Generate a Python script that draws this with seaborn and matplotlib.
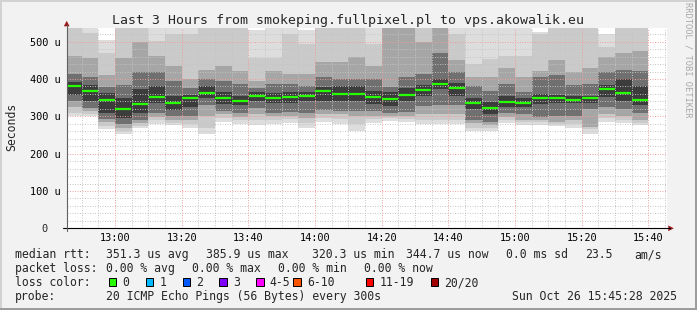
import numpy as np
import pandas as pd
import matplotlib
matplotlib.use("Agg")
import matplotlib.pyplot as plt
from matplotlib.lines import Line2D
from matplotlib.patches import Rectangle, Polygon
import seaborn as sns

# ---------------- data ----------------
# 5-minute RRD slots (each value covers the 5 minutes ending at slot_end)
slot_end = pd.date_range("2025-10-26 12:50", "2025-10-26 15:40", freq="5min")

median_us = [382, 369, 344, 320.3, 333, 353, 336, 349, 363, 350, 342, 355, 350, 353, 355,
             369, 360, 360, 351, 346, 358, 371, 385.9, 377, 336, 323, 339, 337, 350, 350,
             345, 349, 374, 363, 344.7]

# smoke bands (outer -> inner ping pairs), microseconds
band1_lo = [300, 300, 265, 252, 268, 280, 278, 270, 252, 285, 280, 278, 280, 283, 270, 285, 280, 262,
            282, 288, 285, 280, 280, 280, 261, 260, 282, 278, 278, 275, 268, 252, 285, 282, 278]
band1_hi = [545, 545, 505, 545, 545, 545, 545, 545, 545, 545, 545, 530, 545, 545, 530, 545, 545, 545,
            545, 545, 545, 545, 545, 545, 545, 545, 545, 545, 525, 545, 545, 545, 520, 545, 545]
band2_lo = [310, 305, 275, 260, 275, 290, 283, 280, 270, 295, 290, 290, 290, 292, 283, 295, 292, 280,
            292, 295, 292, 290, 290, 290, 270, 268, 290, 285, 285, 280, 280, 265, 295, 290, 283]
band2_hi = [545, 522, 470, 545, 545, 502, 520, 520, 545, 545, 545, 455, 455, 520, 494, 545, 545, 545,
            494, 545, 545, 545, 545, 520, 440, 453, 462, 462, 520, 545, 545, 545, 485, 545, 545]
band3_lo = [325, 315, 285, 270, 283, 298, 290, 290, 300, 305, 298, 305, 300, 300, 295, 305, 305, 300,
            300, 300, 300, 305, 305, 305, 282, 278, 298, 290, 290, 285, 290, 272, 305, 300, 290]
band3_hi = [462, 455, 410, 455, 498, 462, 435, 400, 425, 435, 422, 395, 422, 413, 413, 445, 445, 458,
            435, 545, 545, 498, 545, 450, 405, 405, 430, 405, 422, 450, 420, 430, 458, 470, 475]
band4_lo = [342, 322, 293, 280, 290, 308, 300, 302, 330, 315, 308, 322, 310, 312, 310, 318, 315, 315,
            313, 310, 312, 328, 330, 330, 290, 285, 308, 305, 298, 300, 300, 320, 325, 320, 310]
band4_hi = [413, 405, 378, 385, 418, 418, 395, 375, 400, 395, 387, 375, 387, 387, 382, 405, 400, 400,
            400, 378, 405, 413, 470, 418, 382, 368, 387, 364, 405, 410, 385, 387, 418, 425, 422]
band5_lo = [358, 340, 310, 295, 310, 335, 318, 325, 350, 333, 330, 340, 335, 335, 340, 340, 342, 342,
            333, 328, 340, 355, 372, 355, 320, 305, 325, 325, 333, 335, 335, 335, 352, 340, 330]
band5_hi = [392, 385, 362, 350, 372, 382, 355, 358, 380, 365, 355, 365, 362, 365, 365, 378, 380, 380,
            368, 365, 375, 385, 400, 390, 350, 338, 355, 350, 360, 358, 355, 355, 385, 400, 380]

xtick_labels = ["13:00", "13:20", "13:40", "14:00", "14:20", "14:40", "15:00", "15:20", "15:40"]
ytick_values = [100, 200, 300, 400, 500]
ytick_labels = ["100 u", "200 u", "300 u", "400 u", "500 u"]

title = "Last 3 Hours from smokeping.fullpixel.pl to vps.akowalik.eu"
loss_labels = ["0", "1", "2", "3", "4-5", "6-10", "11-19", "20/20"]
loss_colors = ["#26ff00", "#00b8ff", "#0059ff", "#7e00ff", "#ff00ff", "#ff5500", "#ff0000", "#a10000"]

# ---------------- styling ----------------
sns.set_style("white")
plt.rcParams["font.family"] = ["DejaVu Sans Mono", "DejaVu Sans"]

W, H = 697, 310
BG = "#f2f2f2"


def fx(px):
    return px / W


def fy(py):
    return 1 - py / H


fig = plt.figure(figsize=(W / 100, H / 100), dpi=100, facecolor=BG)
ax_left, ax_right, ax_top, ax_bot = 66.7, 666.7, 27.7, 228.3
ax = fig.add_axes([fx(ax_left), fy(ax_bot), (ax_right - ax_left) / W, (ax_bot - ax_top) / H])
ax.set_facecolor("white")

mins = np.array([t.hour * 60 + t.minute for t in slot_end], dtype=float)
starts = mins - 5
mids = mins - 2.5

bands = [(band1_lo, band1_hi), (band2_lo, band2_hi), (band3_lo, band3_hi),
         (band4_lo, band4_hi), (band5_lo, band5_hi)]
band_colors = ["#dddddd", "#cacaca", "#a6a6a6", "#707070", "#3c3c3c"]
for k, ((lo, hi), col) in enumerate(zip(bands, band_colors)):
    lo = np.array(lo, float)
    hi = np.array(hi, float)
    ax.bar(starts, hi - lo, bottom=lo, width=5, align="edge", color=col,
           linewidth=0, antialiased=False, zorder=1 + 0.1 * k)

sns.scatterplot(x=mids, y=median_us, marker="_", s=144, linewidth=1.6,
                color="#26ff00", ax=ax, zorder=6, legend=False)

t0 = 12 * 60 + 45 + 28 / 60
ax.set_xlim(t0, t0 + 180)
ax.set_ylim(0, 537.5)

xt = [int(s[:2]) * 60 + int(s[3:]) for s in xtick_labels]
ax.set_xticks(xt)
ax.set_xticklabels(xtick_labels)
ax.set_xticks(np.arange(770, 946, 5), minor=True)
ax.set_yticks([0] + ytick_values)
ax.set_yticklabels([""] + ytick_labels)
ax.set_yticks(np.arange(0, 537, 20), minor=True)

ax.set_axisbelow(False)
ax.grid(which="minor", color="#c4c4c4", linestyle=(0, (1, 1.5)), linewidth=0.72, alpha=0.9)
ax.grid(which="major", color="#f29a9a", linestyle=(0, (1, 1.5)), linewidth=0.72, alpha=0.9)

ax.tick_params(axis="x", which="major", length=0, pad=3.5, labelsize=7.4, labelcolor="black")
ax.tick_params(axis="y", which="major", length=2.2, width=0.72, direction="out", color="#404040",
               pad=2.4, labelsize=7.4, labelcolor="black")
ax.tick_params(which="minor", length=0)
for s in ax.spines.values():
    s.set_visible(False)

# "0" label
fig.text(fx(44.5), fy(228.3), "0", ha="center", va="center_baseline", fontsize=7.4)

# axis lines and arrows
fig.add_artist(Line2D([fx(62.7), fx(670)], [fy(228.3), fy(228.3)], transform=fig.transFigure,
                      color="black", linewidth=0.8))
fig.add_artist(Line2D([fx(66.7), fx(66.7)], [fy(231), fy(25)], transform=fig.transFigure,
                      color="#606060", linewidth=0.8))
arrow_c = "#9b1b1b"
fig.add_artist(Polygon([(fx(66.7), fy(20.8)), (fx(63.8), fy(26.3)), (fx(69.6), fy(26.3))],
                       closed=True, transform=fig.transFigure, color=arrow_c, linewidth=0))
fig.add_artist(Polygon([(fx(673.8), fy(228.3)), (fx(668.3), fy(225.4)), (fx(668.3), fy(231.2))],
                       closed=True, transform=fig.transFigure, color=arrow_c, linewidth=0))

# title and labels
fig.text(fx(348), fy(24), title, ha="center", va="baseline", fontsize=9.55)
fig.text(fx(11.5), fy(126.5), "Seconds", rotation=90, ha="center", va="center", fontsize=8.3)
fig.text(fx(687.7), fy(60), "RRDTOOL / TOBI OETIKER", rotation=270, ha="center", va="center",
         fontsize=6.3, color="#a8a8a8")

# legend text
fs = 8.3
rows = [
    (258.0, [("median rtt:", 16), ("351.3 us avg", 106.7), ("385.9 us max", 207.3),
             ("320.3 us min", 312.7), ("344.7 us now", 406.7), ("0.0 ms sd", 506.7),
             ("23.5", 586), ("am/s", 635)]),
    (272.0, [("packet loss:", 16), ("0.00 % avg", 106.7), ("0.00 % max", 193.3),
             ("0.00 % min", 279.3), ("0.00 % now", 365)]),
    (286.0, [("loss color:", 16)]),
    (300.0, [("probe:", 16), ("20 ICMP Echo Pings (56 Bytes) every 300s", 106.7),
             ("Sun Oct 26 15:45:28 2025", 513.3)]),
]
for base, items in rows:
    for txt, x in items:
        fig.text(fx(x - 0.8), fy(base), txt, ha="left", va="baseline", fontsize=fs)

box_x = [108.7, 145.7, 182.7, 219.3, 256.3, 293.3, 365.7, 430.7]
lab_x = [123.3, 160.7, 197.3, 234.3, 270.7, 307.7, 380.0, 445.0]
for bx, lx, lab, col in zip(box_x, lab_x, loss_labels, loss_colors):
    fig.add_artist(Rectangle((fx(bx), fy(286.0)), 7.3 / W, 7.6 / H, transform=fig.transFigure,
                             facecolor=col, edgecolor="black", linewidth=0.72))
    fig.text(fx(lx - 0.8), fy(286.0), lab, ha="left", va="baseline", fontsize=fs)

# image border shading
fig.add_artist(Rectangle((0, fy(2)), 1, 2 / H, transform=fig.transFigure, color="#d2d2d2", lw=0))
fig.add_artist(Rectangle((0, 0), 2 / W, 1, transform=fig.transFigure, color="#d2d2d2", lw=0))
fig.add_artist(Rectangle((fx(695), 0), 2 / W, 1, transform=fig.transFigure, color="#9c9c9c", lw=0))
fig.add_artist(Rectangle((0, 0), 1, 2 / H, transform=fig.transFigure, color="#9c9c9c", lw=0))

fig.savefig("out.png", dpi=100, facecolor=BG)
